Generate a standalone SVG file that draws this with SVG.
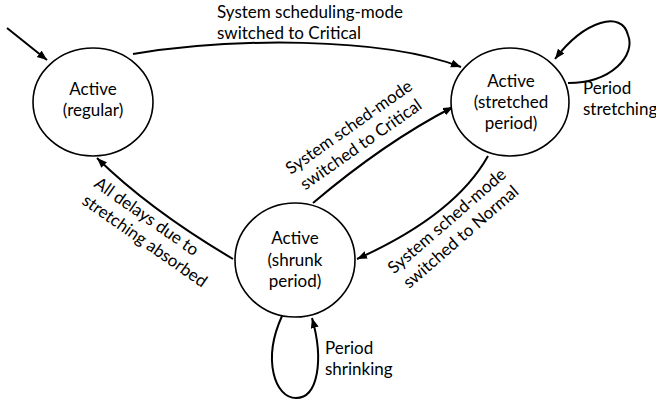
<svg xmlns="http://www.w3.org/2000/svg" width="656" height="402" viewBox="0 0 656 402">
<style>
.st{fill:#fff;stroke:#000;stroke-width:1.6}
.e{fill:none;stroke:#000;stroke-width:2}
text{font-family:Lato,"Liberation Sans",sans-serif;font-size:17px;fill:#000}
.c{text-anchor:middle}
</style>
<defs>
<marker id="ah" markerUnits="userSpaceOnUse" markerWidth="12" markerHeight="10" refX="10" refY="4" orient="auto">
<path d="M0,0 L10,4 L0,8 Z" fill="#000"/>
</marker>
</defs>
<rect width="656" height="402" fill="#fff"/>
<g id="connectors">
<path class="e" d="M7,28 L47,60" marker-end="url(#ah)"/>
<path class="e" d="M133,54 C230,38 380,36 461,67" marker-end="url(#ah)"/>
<path class="e" d="M568,83 C612,83 636,55 628,35 C622,10 585,20 555,59" marker-end="url(#ah)"/>
<path class="e" d="M313,203 Q385,142 453,107" marker-end="url(#ah)"/>
<path class="e" d="M488,156 Q455,215 357,259" marker-end="url(#ah)"/>
<path class="e" d="M233,259 Q150,210 97,158" marker-end="url(#ah)"/>
<path class="e" d="M282,316 C262,360 275,398 296,398 C318,398 324,360 312,318" marker-end="url(#ah)"/>
<text x="583" y="94">Period</text>
<text x="583" y="115" font-size="16">stretching</text>
<text x="217" y="18">System scheduling-mode</text>
<text x="217" y="39">switched to Critical</text>
<text x="325" y="354">Period</text>
<text x="325" y="375">shrinking</text>
<g transform="translate(355,136) rotate(-35)"><text class="c" y="-5">System sched-mode</text><text class="c" y="16">switched to Critical</text></g>
<g transform="translate(454,229) rotate(-41)"><text class="c" y="-5">System sched-mode</text><text class="c" y="16">switched to Normal</text></g>
<g transform="translate(93,186) rotate(35)"><text>All delays due to</text><text y="21">stretching absorbed</text></g>
</g>
<g id="regular">
<ellipse class="st" cx="93" cy="102" rx="60" ry="54"/>
<text class="c" x="93" y="95">Active</text>
<text class="c" x="93" y="116">(regular)</text>
</g>
<g id="stretched">
<ellipse class="st" cx="510" cy="102" rx="59" ry="54"/>
<text class="c" x="511" y="87">Active</text>
<text class="c" x="511" y="108">(stretched</text>
<text class="c" x="511" y="129">period)</text>
</g>
<g id="shrunk">
<ellipse class="st" cx="295" cy="260" rx="60" ry="57"/>
<text class="c" x="295" y="244">Active</text>
<text class="c" x="295" y="266">(shrunk</text>
<text class="c" x="295" y="287">period)</text>
</g>
</svg>
